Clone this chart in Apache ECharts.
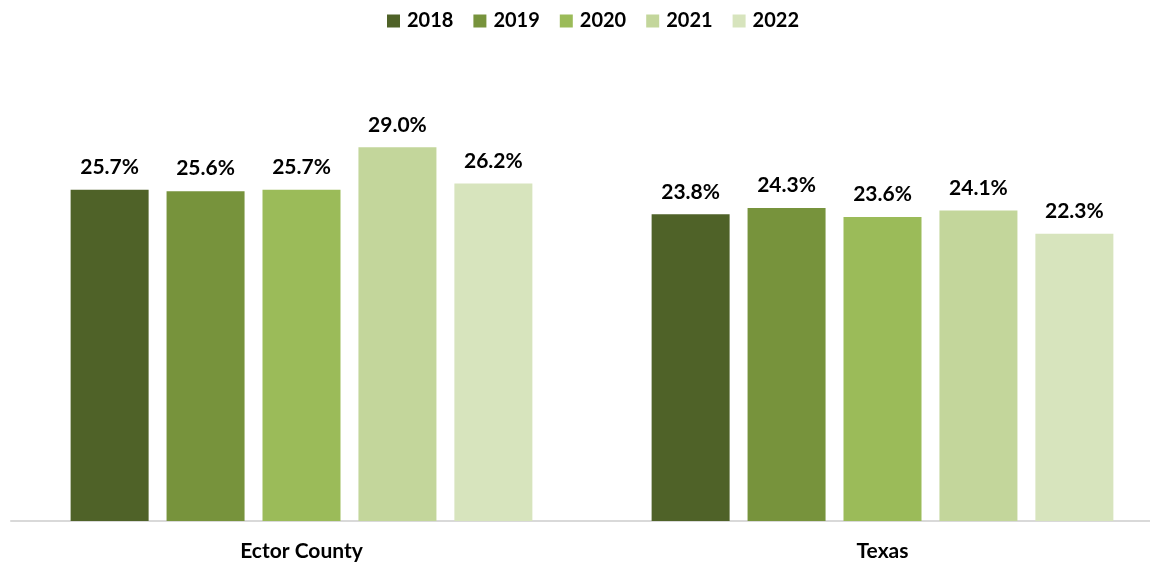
<!DOCTYPE html>
<html><head><meta charset="utf-8">
<script src="https://cdn.jsdelivr.net/npm/echarts@6/dist/echarts.min.js"></script>
<style>html,body{margin:0;padding:0;background:#fff}#c{width:1150px;height:564px}</style>
</head><body><div id="c"></div>
<script>
const categories = ['Ector County', 'Texas'];
const years = ['2018', '2019', '2020', '2021', '2022'];
const v2018 = [25.7, 23.8];
const v2019 = [25.6, 24.3];
const v2020 = [25.7, 23.6];
const v2021 = [29.0, 24.1];
const v2022 = [26.2, 22.3];
const colors = ['#4F6228', '#77933C', '#9BBB59', '#C3D69B', '#D7E4BD'];
const FONT = 'Lato';
const seriesData = [v2018, v2019, v2020, v2021, v2022];
const chart = echarts.init(document.getElementById('c'));
chart.setOption({
  animation: false,
  legend: {
    top: 6, left: 382, itemWidth: 13, itemHeight: 13, itemGap: 20,
    icon: 'rect',
    textStyle: { fontFamily: FONT, fontWeight: 'bold', fontSize: 20, color: '#000', padding: [0, 0, 0, 2] }
  },
  grid: { left: 11, right: -23, top: 70, bottom: 43, outerBoundsMode: 'none', containLabel: false },
  xAxis: {
    type: 'category', data: categories,
    axisLine: { lineStyle: { color: '#D9D9D9', width: 2 } },
    axisTick: { show: false },
    axisLabel: { margin: 20, fontFamily: FONT, fontWeight: 'bold', fontSize: 21, color: '#000' }
  },
  yAxis: { type: 'value', min: 0, max: 35, show: false, splitLine: { show: false } },
  series: seriesData.map((d, i) => ({
    name: years[i], type: 'bar', data: d, barWidth: 78, barGap: '23%',
    itemStyle: { color: colors[i] },
    label: { show: true, position: 'top', distance: 12, formatter: p => p.value.toFixed(1) + '%',
      fontFamily: FONT, fontWeight: 'bold', fontSize: 21, color: '#000' }
  }))
});
</script></body></html>
